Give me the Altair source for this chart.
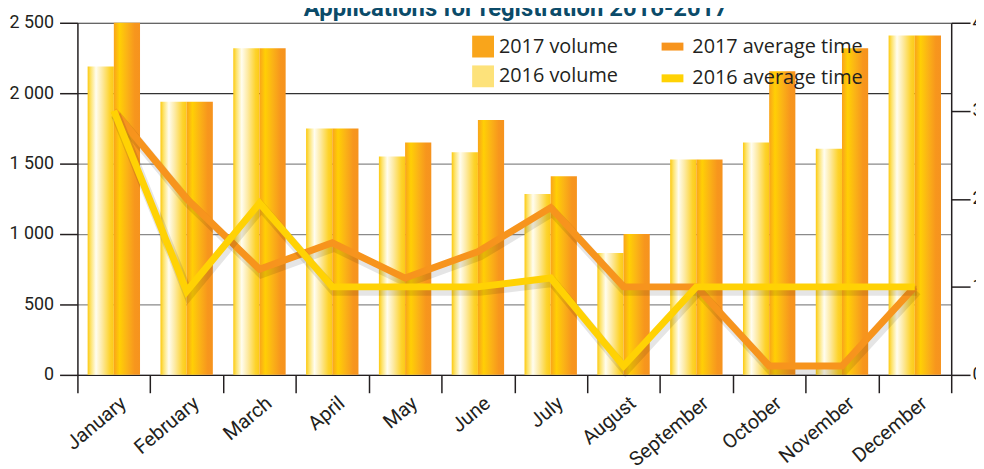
import altair as alt
import pandas as pd

months = ["January", "February", "March", "April", "May", "June", "July",
          "August", "September", "October", "November", "December"]
vol_2016 = [2190, 1940, 2320, 1750, 1550, 1580, 1285, 865, 1530, 1650, 1605, 2410]
vol_2017 = [2500, 1940, 2320, 1750, 1650, 1810, 1410, 1000, 1530, 2155, 2320, 2410]
time_2017 = [3.0, 2.0, 1.2, 1.5, 1.1, 1.4, 1.9, 1.0, 1.0, 0.1, 0.1, 1.0]
time_2016 = [3.0, 0.95, 1.95, 1.0, 1.0, 1.0, 1.1, 0.1, 1.0, 1.0, 1.0, 1.0]

vol_names = ["2017 volume", "2016 volume"]
time_names = ["2017 average time", "2016 average time"]
title_text = "Applications for registration 2016-2017"

df_vol = pd.DataFrame({
    "month": months * 2,
    "year": ["2016"] * 12 + ["2017"] * 12,
    "volume": vol_2016 + vol_2017,
})
df_time = pd.DataFrame({
    "month": months * 2,
    "series": [time_names[0]] * 12 + [time_names[1]] * 12,
    "time": time_2017 + time_2016,
})
df_leg = pd.DataFrame({"series": vol_names})
df_title = pd.DataFrame({"t": [title_text]})

AXFONT = "Roboto"
DARK = "#231f20"

grad_2016 = {
    "gradient": "linear", "x1": 0, "x2": 1, "y1": 0, "y2": 0,
    "stops": [
        {"offset": 0.0, "color": "#fcc90f"},
        {"offset": 0.12, "color": "#fde36b"},
        {"offset": 0.32, "color": "#fffdf0"},
        {"offset": 0.55, "color": "#fdeaa3"},
        {"offset": 0.85, "color": "#fdd32c"},
        {"offset": 1.0, "color": "#fcc917"},
    ],
}
grad_2017 = {
    "gradient": "linear", "x1": 0, "x2": 1, "y1": 0, "y2": 0,
    "stops": [
        {"offset": 0.0, "color": "#f9a31b"},
        {"offset": 0.22, "color": "#ffcf05"},
        {"offset": 0.5, "color": "#fbb316"},
        {"offset": 0.8, "color": "#f7961d"},
        {"offset": 1.0, "color": "#f6931e"},
    ],
}

x_enc = alt.X(
    "month:N", sort=months,
    scale=alt.Scale(paddingInner=0, paddingOuter=0),
    axis=alt.Axis(
        title=None, tickBand="extent", tickSize=18, tickColor=DARK, tickWidth=1.5,
        domainColor=DARK, domainWidth=1.5,
        labelAngle=-40, labelAlign="right", labelBaseline="top",
        labelPadding=0, labelOffset=3,
        labelFont=AXFONT, labelFontSize=20, labelColor=DARK, grid=False,
    ),
)
xoff = alt.XOffset("year:N", scale=alt.Scale(domain=["2016", "2017"],
                                             paddingOuter=0.39, paddingInner=0))
y_vol = alt.Y(
    "volume:Q",
    scale=alt.Scale(domain=[0, 2500], nice=False),
    axis=alt.Axis(
        title=None, orient="left", values=[0, 500, 1000, 1500, 2000, 2500],
        labelExpr="replace(format(datum.value, ','), ',', ' ')",
        tickSize=18, tickColor=DARK, tickWidth=1.5,
        domainColor=DARK, domainWidth=1.5,
        labelFont=AXFONT, labelFontSize=18, labelColor=DARK, labelPadding=6,
        grid=True,
        gridColor={"condition": {"test": "datum.value >= 2000", "value": "#333333"},
                   "value": "#8a8a8a"},
        gridWidth=1.2,
    ),
)

base_vol = alt.Chart(df_vol)
bars16 = base_vol.transform_filter("datum.year == '2016'").mark_bar(color=grad_2016).encode(
    x=x_enc, xOffset=xoff, y=y_vol)
bars17 = base_vol.transform_filter("datum.year == '2017'").mark_bar(color=grad_2017).encode(
    x=x_enc, xOffset=xoff, y=y_vol)

vol_legend = alt.Chart(df_leg).mark_square(size=0, opacity=1).encode(
    fill=alt.Fill(
        "series:N",
        scale=alt.Scale(domain=vol_names, range=["#f9a51b", "#fde27a"]),
        legend=alt.Legend(
            orient="none", legendX=398, legendY=13, title=None,
            symbolType="square", symbolSize=484, symbolStrokeWidth=0,
            symbolOpacity=1,
            labelFont="Open Sans", labelFontSize=20, labelColor=DARK,
            labelOffset=5, rowPadding=8, padding=0, labelLimit=300,
        ),
    )
)

title_mark = alt.Chart(df_title).mark_text(
    font=AXFONT, fontWeight="bold", fontSize=24, color="#0b4b69",
    align="center", baseline="alphabetic",
).encode(text="t:N", x=alt.value(442), y=alt.value(-7))

y_time = alt.Y(
    "time:Q",
    scale=alt.Scale(domain=[0, 4], nice=False),
    axis=alt.Axis(
        title=None, orient="right", values=[0, 1, 2, 3, 4],
        tickSize=19, tickColor=DARK, tickWidth=1.5,
        domainColor=DARK, domainWidth=1.5,
        labelFont=AXFONT, labelFontSize=18, labelColor=DARK, labelPadding=2,
        grid=False,
    ),
)
color_time = alt.Color(
    "series:N",
    scale=alt.Scale(domain=time_names, range=["#f7941d", "#ffd204"]),
    legend=alt.Legend(
        orient="none", legendX=585, legendY=9, title=None,
        symbolType="stroke", symbolSize=484, symbolStrokeWidth=8,
        labelFont="Open Sans", labelFontSize=20, labelColor=DARK,
        labelOffset=5, rowPadding=0, padding=0, labelLimit=300,
    ),
)

base_time = alt.Chart(df_time)
layers = []
for name in time_names:
    filt = f"datum.series == '{name}'"
    layers.append(base_time.transform_filter(filt).mark_line(
        color="#000000", opacity=0.1, strokeWidth=10, xOffset=2, yOffset=4,
        strokeJoin="miter").encode(x=x_enc, y=y_time))
    layers.append(base_time.transform_filter(filt).mark_line(
        strokeWidth=7, strokeJoin="miter").encode(x=x_enc, y=y_time, color=color_time))

bar_group = alt.layer(bars16, bars17, vol_legend, title_mark)
line_group = alt.layer(*layers)

chart = alt.layer(bar_group, line_group).resolve_scale(
    y="independent"
).properties(
    width=881, height=355,
    autosize=alt.AutoSizeParams(type="none"),
    padding={"left": 70, "top": 13, "right": 25, "bottom": 93},
).configure_view(stroke=None)

chart.save("out.html", embed_options={"renderer": "svg", "actions": False})
